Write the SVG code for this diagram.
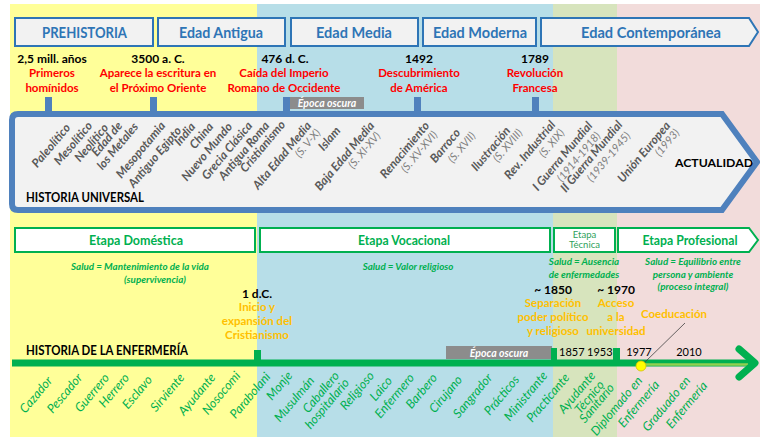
<svg xmlns="http://www.w3.org/2000/svg" width="760" height="437" viewBox="0 0 760 437">
<style>
  text { font-family: Lato, "Liberation Sans", sans-serif; }
  .era rect, .era path { fill: #F2F2F2; stroke: #2E75B6; stroke-width: 2; }
  .era text { fill: #2E75B6; font-size: 14.5px; font-weight: bold; text-anchor: middle; }
  .date { fill: #000; font-size: 12px; font-weight: bold; text-anchor: middle; }
  .evt { fill: #FF0000; font-size: 11.5px; font-weight: bold; text-anchor: middle; }
  .uni { fill: #595959; font-size: 12px; font-style: italic; font-weight: bold; text-anchor: end; }
  .sub { fill: #7F7F7F; font-size: 11px; font-style: italic; text-anchor: end; }
  .stage rect, .stage path { fill: #FFFFFF; stroke: #00B050; stroke-width: 2; }
  .stage text { fill: #00B050; font-size: 13px; font-weight: bold; text-anchor: middle; }
  .stage text.small { font-size: 9.5px; font-weight: normal; fill: #2E9F5A; }
  .health { fill: #00B050; font-size: 9.8px; font-style: italic; font-weight: bold; text-anchor: middle; }
  .orange { fill: #FFC000; font-size: 11.5px; font-weight: bold; text-anchor: middle; }
  .nur { fill: #00B050; font-size: 12.5px; font-style: italic; text-anchor: end; }
  .title { fill: #000; font-size: 13px; font-weight: bold; }
  .title.short { font-size: 12px; }
  .year { fill: #000; font-size: 11px; }
  .dark { fill: #8C8C8C; }
  .dark text { fill: #FFFFFF; font-size: 10.5px; font-style: italic; font-weight: bold; text-anchor: middle; }
  .btick { fill: #4F81BD; }
  .gtick { fill: #00B050; }
</style>

<!-- period backgrounds -->
<g id="bands">
  <rect x="10" y="4" width="247" height="433" fill="#FFFF99"/>
  <rect x="257" y="4" width="296" height="433" fill="#B7DEE8"/>
  <rect x="553" y="4" width="64" height="433" fill="#D7E4BD"/>
  <rect x="617" y="4" width="143" height="433" fill="#F2DCDB"/>
</g>

<!-- historical ages -->
<g id="era-prehistoria" class="era"><rect x="15" y="18" width="138" height="28"/><text x="84.5" y="38" textLength="85" lengthAdjust="spacingAndGlyphs">PREHISTORIA</text></g>
<g id="era-antigua" class="era"><rect x="158" y="18" width="127" height="28"/><text x="221" y="38" textLength="84" lengthAdjust="spacingAndGlyphs">Edad Antigua</text></g>
<g id="era-media" class="era"><rect x="291" y="18" width="127" height="28"/><text x="354" y="38" textLength="76" lengthAdjust="spacingAndGlyphs">Edad Media</text></g>
<g id="era-moderna" class="era"><rect x="423" y="18" width="113" height="28"/><text x="480" y="38" textLength="94" lengthAdjust="spacingAndGlyphs">Edad Moderna</text></g>
<g id="era-contemporanea" class="era"><path d="M541,18 H749 L758,32 L749,46 H541 Z"/><text x="651" y="38" textLength="140" lengthAdjust="spacingAndGlyphs">Edad Contemporánea</text></g>

<!-- milestones of universal history -->
<g id="hito-hominidos"><text class="date" x="52" y="63">2,5 mill. años</text><text class="evt" x="52" y="77">Primeros</text><text class="evt" x="52" y="92">homínidos</text></g>
<g id="hito-escritura"><text class="date" x="158" y="63">3500 a. C.</text><text class="evt" x="158" y="77">Aparece la escritura en</text><text class="evt" x="158" y="92">el Próximo Oriente</text></g>
<g id="hito-roma"><text class="date" x="285" y="63">476 d. C.</text><text class="evt" x="284" y="77">Caída del Imperio</text><text class="evt" x="284" y="92">Romano de  Occidente</text></g>
<g id="hito-america"><text class="date" x="419" y="63">1492</text><text class="evt" x="419" y="77">Descubrimiento</text><text class="evt" x="419" y="92">de América</text></g>
<g id="hito-revolucion"><text class="date" x="535" y="63">1789</text><text class="evt" x="535" y="77">Revolución</text><text class="evt" x="535" y="92">Francesa</text></g>

<g id="oscura-universal" class="dark"><rect x="290" y="97" width="74" height="12"/><text x="327" y="107">Época oscura</text></g>

<!-- universal history arrow -->
<g id="historia-universal">
  <path d="M18,114 H722 L757,162 L722,210 H18 Q12,210 12,204 V120 Q12,114 18,114 Z" fill="#F2F2F2" stroke="#4F81BD" stroke-width="6" stroke-linejoin="miter"/>
  <text class="title" x="26" y="202" textLength="118" lengthAdjust="spacingAndGlyphs">HISTORIA UNIVERSAL</text>
  <text class="title short" x="675" y="167" textLength="78" lengthAdjust="spacingAndGlyphs">ACTUALIDAD</text>
  <text class="uni" x="71" y="128" transform="rotate(-50 71 128)">Paleolítico</text>
  <text class="uni" x="93" y="126" transform="rotate(-50 93 126)">Mesolítico</text>
  <text class="uni" x="109" y="128" transform="rotate(-50 109 128)">Neolítico</text>
  <text class="uni" x="123" y="126" transform="rotate(-50 123 126)">Edad de</text>
  <text class="uni" x="139" y="127" transform="rotate(-50 139 127)">los Metales</text>
  <text class="uni" x="166" y="126" transform="rotate(-50 166 126)">Mesopotamia</text>
  <text class="uni" x="182" y="131" transform="rotate(-50 182 131)">Antiguo Egipto</text>
  <text class="uni" x="196" y="127" transform="rotate(-50 196 127)">India</text>
  <text class="uni" x="214" y="127" transform="rotate(-50 214 127)">China</text>
  <text class="uni" x="233" y="127" transform="rotate(-50 233 127)">Nuevo Mundo</text>
  <text class="uni" x="253" y="126" transform="rotate(-50 253 126)">Grecia Clásica</text>
  <text class="uni" x="270" y="126" transform="rotate(-50 270 126)">Antigua Roma</text>
  <text class="uni" x="286" y="125" transform="rotate(-50 286 125)">Cristianismo</text>
  <text class="uni" x="312" y="126" transform="rotate(-50 312 126)">Alta Edad Media</text>
  <text class="sub" x="321" y="133" transform="rotate(-50 321 133)">(S. V-X)</text>
  <text class="uni" x="341" y="131" transform="rotate(-50 341 131)">Islam</text>
  <text class="uni" x="375" y="126" transform="rotate(-50 375 126)">Baja Edad Media</text>
  <text class="sub" x="381" y="136" transform="rotate(-50 381 136)">(S. XI-XV)</text>
  <text class="uni" x="430" y="126" transform="rotate(-50 430 126)">Renacimiento</text>
  <text class="sub" x="438" y="135" transform="rotate(-50 438 135)">(S. XV-XVI)</text>
  <text class="uni" x="461" y="133" transform="rotate(-50 461 133)">Barroco</text>
  <text class="sub" x="476" y="136" transform="rotate(-50 476 136)">(S. XVII)</text>
  <text class="uni" x="511" y="131" transform="rotate(-50 511 131)">Ilustración</text>
  <text class="sub" x="523" y="133" transform="rotate(-50 523 133)">(S. XVIII)</text>
  <text class="uni" x="556" y="125" transform="rotate(-50 556 125)">Rev. Industrial</text>
  <text class="sub" x="565" y="133" transform="rotate(-50 565 133)">(S. XIX)</text>
  <text class="uni" x="593" y="126" transform="rotate(-50 593 126)">I Guerra Mundial</text>
  <text class="sub" x="601" y="136" transform="rotate(-50 601 136)">(1914-1918)</text>
  <text class="uni" x="623" y="125" transform="rotate(-50 623 125)">II Guerra Mundial</text>
  <text class="sub" x="631" y="136" transform="rotate(-50 631 136)">(1939-1945)</text>
  <text class="uni" x="671" y="126" transform="rotate(-50 671 126)">Unión Europea</text>
  <text class="sub" x="680" y="133" transform="rotate(-50 680 133)">(1993)</text>
</g>

<!-- nursing stages -->
<g id="etapa-domestica" class="stage"><rect x="15" y="228" width="240" height="24"/><text x="136" y="245" textLength="94" lengthAdjust="spacingAndGlyphs">Etapa Doméstica</text></g>
<g id="etapa-vocacional" class="stage"><rect x="260" y="228" width="290" height="24"/><text x="404" y="245" textLength="92" lengthAdjust="spacingAndGlyphs">Etapa Vocacional</text></g>
<g id="etapa-tecnica" class="stage"><rect x="554" y="228" width="61" height="24"/><text class="small" x="584.5" y="238">Etapa</text><text class="small" x="584.5" y="248">Técnica</text></g>
<g id="etapa-profesional" class="stage"><path d="M618,228 H749 L758,240 L749,252 H618 Z"/><text x="690" y="245" textLength="95" lengthAdjust="spacingAndGlyphs">Etapa Profesional</text></g>

<g id="salud">
  <text class="health" x="140" y="270">Salud = Mantenimiento de la vida</text>
  <text class="health" x="155" y="283">(supervivencia)</text>
  <text class="health" x="408" y="270">Salud = Valor religioso</text>
  <text class="health" x="584" y="265">Salud = Ausencia</text>
  <text class="health" x="584" y="278">de enfermedades</text>
  <text class="health" x="693" y="265">Salud = Equilibrio entre</text>
  <text class="health" x="693" y="278">persona y ambiente</text>
  <text class="health" x="693" y="290">(proceso integral)</text>
</g>

<!-- nursing milestones -->
<g id="hito-cristianismo"><text class="date" x="257" y="298">1 d.C.</text><text class="orange" x="257" y="311">Inicio y</text><text class="orange" x="257" y="325">expansión del</text><text class="orange" x="257" y="339">Cristianismo</text></g>
<g id="hito-1850"><text class="date" x="553" y="294">~ 1850</text><text class="orange" x="553" y="307">Separación</text><text class="orange" x="553" y="321">poder político</text><text class="orange" x="553" y="335">y religioso</text></g>
<g id="hito-1970"><text class="date" x="616" y="294">~ 1970</text><text class="orange" x="616" y="307">Acceso</text><text class="orange" x="616" y="321">a la</text><text class="orange" x="616" y="335">universidad</text></g>
<g id="hito-coeducacion"><text class="orange" x="674" y="318">Coeducación</text></g>

<g id="oscura-enfermeria" class="dark"><rect x="446" y="346" width="106" height="13"/><text x="499" y="356.5">Época oscura</text></g>

<!-- nursing timeline -->
<g id="historia-enfermeria">
  <text class="title" x="26" y="355" textLength="162" lengthAdjust="spacingAndGlyphs">HISTORIA DE LA ENFERMERÍA</text>
  <text class="year" x="559" y="356">1857</text>
  <text class="year" x="587" y="356">1953</text>
  <text class="year" x="639" y="356" text-anchor="middle">1977</text>
  <text class="year" x="689" y="356" text-anchor="middle">2010</text>
  <text class="nur" x="53" y="381" transform="rotate(-50 53 381)">Cazador</text>
  <text class="nur" x="83" y="378" transform="rotate(-50 83 378)">Pescador</text>
  <text class="nur" x="110" y="378" transform="rotate(-50 110 378)">Guerrero</text>
  <text class="nur" x="130" y="378" transform="rotate(-50 130 378)">Herrero</text>
  <text class="nur" x="153" y="380" transform="rotate(-50 153 380)">Esclavo</text>
  <text class="nur" x="185" y="378" transform="rotate(-50 185 378)">Sirviente</text>
  <text class="nur" x="216" y="378" transform="rotate(-50 216 378)">Ayudante</text>
  <text class="nur" x="241" y="376" transform="rotate(-50 241 376)">Nosocomi</text>
  <text class="nur" x="271" y="377" transform="rotate(-50 271 377)">Parabolani</text>
  <text class="nur" x="293" y="376" transform="rotate(-50 293 376)">Monje</text>
  <text class="nur" x="315" y="381" transform="rotate(-50 315 381)">Musulmán</text>
  <text class="nur" x="340" y="376" transform="rotate(-50 340 376)">Caballero</text>
  <text class="nur" x="350" y="383" transform="rotate(-50 350 383)">hospitalario</text>
  <text class="nur" x="375" y="376" transform="rotate(-50 375 376)">Religioso</text>
  <text class="nur" x="393" y="381" transform="rotate(-50 393 381)">Laico</text>
  <text class="nur" x="415" y="378" transform="rotate(-50 415 378)">Enfermero</text>
  <text class="nur" x="438" y="378" transform="rotate(-50 438 378)">Barbero</text>
  <text class="nur" x="463" y="380" transform="rotate(-50 463 380)">Cirujano</text>
  <text class="nur" x="493" y="378" transform="rotate(-50 493 378)">Sangrador</text>
  <text class="nur" x="520" y="380" transform="rotate(-50 520 380)">Prácticos</text>
  <text class="nur" x="548" y="376" transform="rotate(-50 548 376)">Ministrante</text>
  <text class="nur" x="570" y="378" transform="rotate(-50 570 378)">Practicante</text>
  <text class="nur" x="596" y="376" transform="rotate(-50 596 376)">Ayudante</text>
  <text class="nur" x="605" y="385" transform="rotate(-50 605 385)">Técnico</text>
  <text class="nur" x="615" y="388" transform="rotate(-50 615 388)">Sanitario</text>
  <text class="nur" x="643" y="381" transform="rotate(-50 643 381)">Diplomado en</text>
  <text class="nur" x="660" y="385" transform="rotate(-50 660 385)">Enfermería</text>
  <text class="nur" x="691" y="381" transform="rotate(-50 691 381)">Graduado en</text>
  <text class="nur" x="708" y="386" transform="rotate(-50 708 386)">Enfermería</text>
</g>

<!-- connectors: milestone ticks, timeline and pointer line -->
<g id="connectors">
  <rect class="btick" x="45" y="97" width="7" height="16"/>
  <rect class="btick" x="150" y="97" width="7" height="16"/>
  <rect class="btick" x="283" y="97" width="7" height="16"/>
  <rect class="btick" x="414" y="97" width="7" height="16"/>
  <rect class="btick" x="532" y="97" width="7" height="16"/>
  <line x1="12" y1="363" x2="752" y2="363" stroke="#00B050" stroke-width="7"/>
  <line x1="641" y1="364.5" x2="748" y2="364.5" stroke="#92D050" stroke-width="2.5"/>
  <polyline points="739,349 755,363 739,377" fill="none" stroke="#00B050" stroke-width="7" stroke-linecap="round" stroke-linejoin="round"/>
  <rect class="gtick" x="254" y="350" width="7" height="13"/>
  <rect class="gtick" x="551" y="348" width="6" height="15"/>
  <rect class="gtick" x="613" y="348" width="7" height="15"/>
  <line x1="643" y1="364" x2="685" y2="323" stroke="#404040" stroke-width="0.8"/>
  <circle cx="641" cy="366" r="5" fill="#FFFF00" stroke="#D4C000" stroke-width="0.8"/>
</g>
</svg>
